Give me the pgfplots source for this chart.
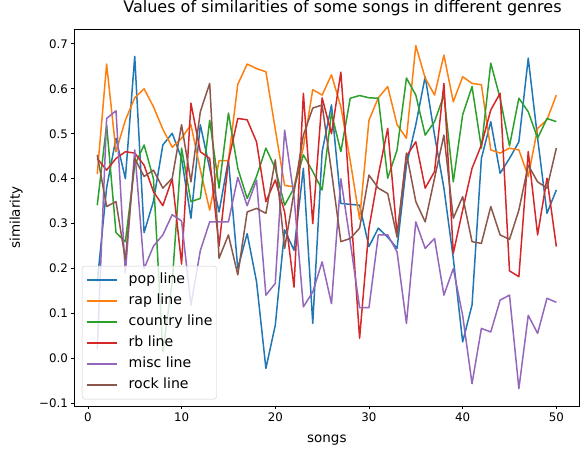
\documentclass[border=0pt]{standalone}
\usepackage{fontspec}
\setmainfont{DejaVu Sans}
\usepackage{pgfplots}
\pgfplotsset{compat=1.18}

\definecolor{tabblue}{HTML}{1F77B4}
\definecolor{taborange}{HTML}{FF7F0E}
\definecolor{tabgreen}{HTML}{2CA02C}
\definecolor{tabred}{HTML}{D62728}
\definecolor{tabpurple}{HTML}{9467BD}
\definecolor{tabbrown}{HTML}{8C564B}

\begin{document}
\begin{tikzpicture}
\useasboundingbox (-74.3pt,-48.3pt) rectangle (506.7pt,406pt);
\begin{axis}[
  width=505pt, height=377pt, scale only axis,
  xmin=-1.45, xmax=52.45, ymin=-0.1056, ymax=0.733,
  xtick={0,10,20,30,40,50},
  ytick={-0.1,0,0.1,0.2,0.3,0.4,0.5,0.6,0.7},
  yticklabels={−0.1,0.0,0.1,0.2,0.3,0.4,0.5,0.6,0.7},
  tick align=outside, tick pos=left,
  major tick length=3pt,
  every tick/.style={black, line width=0.7pt},
  axis line style={line width=0.7pt},
  tick label style={font=\fontsize{11.8}{14}\selectfont},
  /pgf/number format/assume math mode=true,
  label style={font=\fontsize{13.5}{16}\selectfont},
  xlabel={songs}, ylabel={similarity},
  xlabel style={at={(axis description cs:0.5,-0.0902)}, anchor=center},
  ylabel style={at={(axis description cs:-0.1149,0.5)}, anchor=center, rotate=0},
  title={Values of similarities of some songs in different genres},
  title style={at={(axis description cs:0.531,1.0398)}, anchor=center, font=\fontsize{16}{19}\selectfont},
  every axis plot/.append style={line width=1.5pt, line join=round},
  legend cell align=left,
  legend image code/.code={\draw[#1] (0pt,0pt) -- (30pt,0pt);},
  legend style={at={(rel axis cs:0.0152,0.0178)}, anchor=south west,
    draw=black!20, rounded corners=2.5pt, fill=white, fill opacity=0.8, text opacity=1,
    font=\fontsize{14.1}{17}\selectfont, inner xsep=4pt, inner ysep=7pt,
    row sep=7pt, column sep=11pt,
    nodes={inner sep=0pt, text height=10.5pt, text depth=3.5pt}},
]
\addplot[tabblue] coordinates {
(1,0.17) (2,0.38) (3,0.49) (4,0.40) (5,0.672) (6,0.28) (7,0.35) (8,0.475) (9,0.501) (10,0.445)
(11,0.312) (12,0.52) (13,0.423) (14,0.326) (15,0.442) (16,0.20) (17,0.278) (18,0.171) (19,-0.022) (20,0.074)
(21,0.286) (22,0.241) (23,0.423) (24,0.078) (25,0.46) (26,0.564) (27,0.345) (28,0.343) (29,0.341) (30,0.249)
(31,0.29) (32,0.27) (33,0.245) (34,0.43) (35,0.52) (36,0.627) (37,0.497) (38,0.379) (39,0.223) (40,0.037)
(41,0.119) (42,0.445) (43,0.527) (44,0.412) (45,0.445) (46,0.482) (47,0.668) (48,0.49) (49,0.323) (50,0.375)
};
\addlegendentry{pop line}
\addplot[taborange] coordinates {
(1,0.41) (2,0.655) (3,0.46) (4,0.53) (5,0.58) (6,0.60) (7,0.56) (8,0.51) (9,0.47) (10,0.49)
(11,0.52) (12,0.42) (13,0.33) (14,0.44) (15,0.44) (16,0.61) (17,0.655) (18,0.645) (19,0.638) (20,0.51)
(21,0.385) (22,0.382) (23,0.47) (24,0.598) (25,0.586) (26,0.631) (27,0.56) (28,0.44) (29,0.31) (30,0.53)
(31,0.58) (32,0.605) (33,0.52) (34,0.49) (35,0.696) (36,0.624) (37,0.586) (38,0.675) (39,0.571) (40,0.627)
(41,0.612) (42,0.609) (43,0.464) (44,0.457) (45,0.468) (46,0.464) (47,0.405) (48,0.512) (49,0.531) (50,0.586)
};
\addlegendentry{rap line}
\addplot[tabgreen] coordinates {
(1,0.341) (2,0.52) (3,0.28) (4,0.26) (5,0.43) (6,0.475) (7,0.40) (8,0.015) (9,0.17) (10,0.468)
(11,0.349) (12,0.356) (13,0.53) (14,0.379) (15,0.546) (16,0.423) (17,0.356) (18,0.405) (19,0.468) (20,0.423)
(21,0.341) (22,0.379) (23,0.453) (24,0.416) (25,0.375) (26,0.546) (27,0.46) (28,0.579) (29,0.585) (30,0.58)
(31,0.579) (32,0.401) (33,0.464) (34,0.624) (35,0.586) (36,0.497) (37,0.527) (38,0.586) (39,0.393) (40,0.542)
(41,0.605) (42,0.468) (43,0.657) (44,0.579) (45,0.473) (46,0.579) (47,0.549) (48,0.49) (49,0.534) (50,0.527)
};
\addlegendentry{country line}
\addplot[tabred] coordinates {
(1,0.445) (2,0.419) (3,0.445) (4,0.46) (5,0.457) (6,0.43) (7,0.371) (8,0.34) (9,0.40) (10,0.21)
(11,0.568) (12,0.46) (13,0.445) (14,0.25) (15,0.44) (16,0.534) (17,0.531) (18,0.482) (19,0.349) (20,0.397)
(21,0.326) (22,0.159) (23,0.59) (24,0.30) (25,0.58) (26,0.50) (27,0.637) (28,0.35) (29,0.045) (30,0.29)
(31,0.408) (32,0.512) (33,0.275) (34,0.45) (35,0.482) (36,0.379) (37,0.416) (38,0.612) (39,0.234) (40,0.33)
(41,0.423) (42,0.475) (43,0.553) (44,0.59) (45,0.195) (46,0.182) (47,0.46) (48,0.275) (49,0.401) (50,0.249)
};
\addlegendentry{rb line}
\addplot[tabpurple] coordinates {
(1,0.02) (2,0.534) (3,0.551) (4,0.19) (5,0.464) (6,0.20) (7,0.25) (8,0.275) (9,0.32) (10,0.306)
(11,0.119) (12,0.24) (13,0.304) (14,0.304) (15,0.304) (16,0.403) (17,0.34) (18,0.397) (19,0.141) (20,0.167)
(21,0.508) (22,0.36) (23,0.115) (24,0.148) (25,0.215) (26,0.122) (27,0.40) (28,0.26) (29,0.113) (30,0.113)
(31,0.275) (32,0.275) (33,0.237) (34,0.078) (35,0.304) (36,0.245) (37,0.267) (38,0.141) (39,0.2) (40,0.096)
(41,-0.056) (42,0.067) (43,0.059) (44,0.13) (45,0.141) (46,-0.067) (47,0.096) (48,0.056) (49,0.134) (50,0.125)
};
\addlegendentry{misc line}
\addplot[tabbrown] coordinates {
(1,0.453) (2,0.338) (3,0.349) (4,0.22) (5,0.445) (6,0.405) (7,0.419) (8,0.379) (9,0.401) (10,0.52)
(11,0.393) (12,0.549) (13,0.612) (14,0.223) (15,0.275) (16,0.186) (17,0.326) (18,0.334) (19,0.323) (20,0.442)
(21,0.245) (22,0.37) (23,0.497) (24,0.557) (25,0.564) (26,0.416) (27,0.26) (28,0.267) (29,0.29) (30,0.408)
(31,0.379) (32,0.367) (33,0.27) (34,0.457) (35,0.349) (36,0.304) (37,0.401) (38,0.497) (39,0.312) (40,0.36)
(41,0.26) (42,0.256) (43,0.338) (44,0.275) (45,0.265) (46,0.33) (47,0.43) (48,0.393) (49,0.379) (50,0.468)
};
\addlegendentry{rock line}
\end{axis}
\end{tikzpicture}
\end{document}
